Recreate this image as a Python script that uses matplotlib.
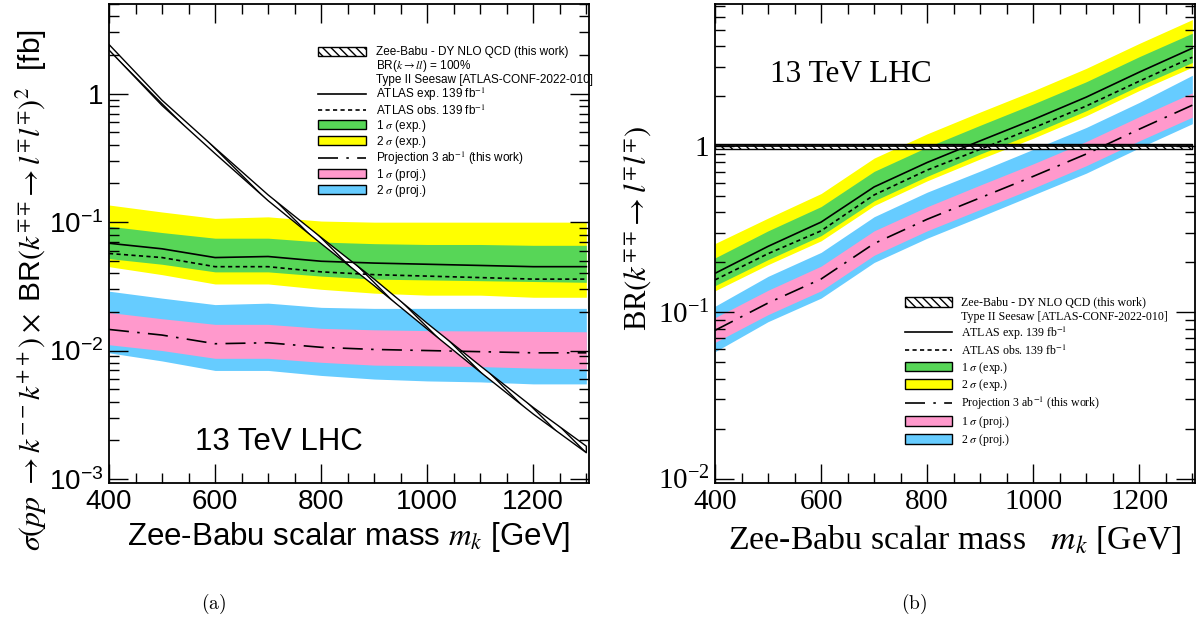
import math
import matplotlib.pyplot as plt
from matplotlib.patches import Patch
from matplotlib.lines import Line2D
from matplotlib.ticker import MultipleLocator, LogLocator, FuncFormatter, NullFormatter

plt.rcParams['mathtext.fontset'] = 'stix'

# masses in GeV
mass = [400, 500, 600, 700, 800, 900, 1000, 1100, 1200, 1300]

# ---- panel (a): cross section x BR^2 [fb]
theory_lo = [2.19, 0.81, 0.342, 0.147, 0.068, 0.032, 0.0147, 0.0068, 0.0032, 0.0016]
theory_hi = [2.42, 0.89, 0.378, 0.163, 0.076, 0.036, 0.0163, 0.0076, 0.0036, 0.0018]
exp_lim = [0.0685, 0.062, 0.053, 0.054, 0.0496, 0.048, 0.047, 0.046, 0.045, 0.045]
obs_lim = [0.057, 0.053, 0.045, 0.045, 0.041, 0.039, 0.038, 0.037, 0.036, 0.036]
exp_1s_lo = [0.052, 0.047, 0.041, 0.041, 0.038, 0.036, 0.0355, 0.035, 0.0345, 0.034]
exp_1s_hi = [0.093, 0.083, 0.075, 0.075, 0.070, 0.068, 0.067, 0.067, 0.066, 0.066]
exp_2s_lo = [0.045, 0.039, 0.033, 0.033, 0.030, 0.028, 0.027, 0.027, 0.026, 0.026]
exp_2s_hi = [0.136, 0.120, 0.107, 0.110, 0.102, 0.100, 0.100, 0.100, 0.100, 0.100]
proj_lim = [0.0146, 0.0132, 0.0113, 0.0115, 0.0106, 0.0102, 0.0100, 0.0098, 0.0096, 0.0096]
proj_1s_lo = [0.0111, 0.0100, 0.0087, 0.0087, 0.0081, 0.0077, 0.0076, 0.0075, 0.0073, 0.0072]
proj_1s_hi = [0.0198, 0.0177, 0.0160, 0.0160, 0.0149, 0.0145, 0.0143, 0.0142, 0.0141, 0.0140]
proj_2s_lo = [0.0096, 0.0083, 0.0070, 0.0070, 0.0064, 0.0060, 0.0058, 0.0057, 0.0055, 0.0055]
proj_2s_hi = [0.0290, 0.0256, 0.0228, 0.0234, 0.0217, 0.0213, 0.0213, 0.0213, 0.0213, 0.0213]

# ---- panel (b): BR limits
br_th_lo = [0.965] * 10
br_th_hi = [1.035] * 10
br_exp = [0.172, 0.25, 0.35, 0.57, 0.80, 1.08, 1.45, 1.98, 2.8, 3.9]
br_obs = [0.157, 0.226, 0.31, 0.51, 0.72, 0.96, 1.29, 1.75, 2.47, 3.44]
br_1s_lo = [0.145, 0.208, 0.29, 0.47, 0.66, 0.90, 1.20, 1.64, 2.32, 3.2]
br_1s_hi = [0.213, 0.31, 0.434, 0.707, 0.99, 1.34, 1.80, 2.45, 3.47, 4.8]
br_2s_lo = [0.135, 0.194, 0.27, 0.44, 0.62, 0.84, 1.12, 1.53, 2.17, 3.0]
br_2s_hi = [0.26, 0.37, 0.52, 0.85, 1.19, 1.61, 2.16, 2.95, 4.17, 5.8]
br_proj = [0.078, 0.114, 0.159, 0.26, 0.364, 0.49, 0.66, 0.90, 1.27, 1.77]
br_p1s_lo = [0.066, 0.097, 0.135, 0.221, 0.31, 0.417, 0.56, 0.765, 1.08, 1.5]
br_p1s_hi = [0.093, 0.136, 0.19, 0.31, 0.433, 0.585, 0.785, 1.07, 1.51, 2.1]
br_p2s_lo = [0.058, 0.088, 0.122, 0.20, 0.28, 0.377, 0.51, 0.69, 0.98, 1.37]
br_p2s_hi = [0.109, 0.165, 0.23, 0.377, 0.53, 0.71, 0.96, 1.30, 1.84, 2.68]

GREEN = '#57d657'
YELLOW = '#ffff00'
PINK = '#ff99cc'
BLUE = '#66ccff'
HATCH = '\\\\\\\\'
SANS = 'Liberation Sans'
SERIF = 'Liberation Serif'


def decade_fmt(v, pos):
    if abs(v - 1) < 1e-9:
        return '1'
    return r'$\mathdefault{10^{%d}}$' % int(round(math.log10(v)))


def style_axes(ax, family, size):
    ax.set_xlim(400, 1305)
    ax.xaxis.set_major_locator(MultipleLocator(200))
    ax.xaxis.set_minor_locator(MultipleLocator(50))
    ax.yaxis.set_major_locator(LogLocator(base=10))
    ax.yaxis.set_minor_locator(LogLocator(base=10, subs=range(2, 10)))
    ax.yaxis.set_major_formatter(FuncFormatter(decade_fmt))
    ax.yaxis.set_minor_formatter(NullFormatter())
    ax.tick_params(which='both', direction='in', top=True, right=True, width=1)
    ax.tick_params(which='major', length=14, labelsize=size, pad=4)
    ax.tick_params(which='minor', length=7)
    for lab in ax.get_xticklabels() + ax.get_yticklabels():
        lab.set_family(family)
    for s in ax.spines.values():
        s.set_linewidth(1.3)


def draw(ax, lim):
    th_lo, th_hi, y2lo, y2hi, g1lo, g1hi, e, o, p2lo, p2hi, p1lo, p1hi, p = lim
    ax.fill_between(mass, y2lo, y2hi, color=YELLOW, lw=0)
    ax.fill_between(mass, g1lo, g1hi, color=GREEN, lw=0)
    ax.fill_between(mass, p2lo, p2hi, color=BLUE, lw=0)
    ax.fill_between(mass, p1lo, p1hi, color=PINK, lw=0)
    ax.plot(mass, e, color='black', lw=1.2)
    ax.plot(mass, o, color='black', lw=1.2, dashes=(2.5, 2))
    ax.plot(mass, p, color='black', lw=1.2, dashes=(12, 5, 1.5, 5))
    ax.fill_between(mass, th_lo, th_hi, facecolor='white', edgecolor='black',
                    hatch=HATCH, lw=1)


def legend_items():
    blank = Line2D([], [], color='none')
    return [
        Patch(facecolor='white', edgecolor='black', hatch=HATCH, lw=1),
        blank,
        blank,
        Line2D([], [], color='black', lw=1.2),
        Line2D([], [], color='black', lw=1.2, dashes=(2.5, 2)),
        Patch(facecolor=GREEN, edgecolor='black', lw=1),
        Patch(facecolor=YELLOW, edgecolor='black', lw=1),
        Line2D([], [], color='black', lw=1.2, dashes=(12, 5, 1.5, 5)),
        Patch(facecolor=PINK, edgecolor='black', lw=1),
        Patch(facecolor=BLUE, edgecolor='black', lw=1),
    ]


fig = plt.figure(figsize=(12.04, 6.24), dpi=100)
ax1 = fig.add_axes([109 / 1204, 1 - 483 / 624, 480 / 1204, 479 / 624])
ax2 = fig.add_axes([715 / 1204, 1 - 483 / 624, 480 / 1204, 479 / 624])

# ---------------- (a)
draw(ax1, (theory_lo, theory_hi, exp_2s_lo, exp_2s_hi, exp_1s_lo, exp_1s_hi,
           exp_lim, obs_lim, proj_2s_lo, proj_2s_hi, proj_1s_lo, proj_1s_hi, proj_lim))
ax1.set_yscale('log')
ax1.set_ylim(0.93e-3, 5.0)
style_axes(ax1, SANS, 20)
ax1.set_xlabel('Zee-Babu scalar mass $m_k$ [GeV]', family=SANS, fontsize=22.5, labelpad=4)
ax1.set_ylabel(r'$\sigma(pp\ \rightarrow k^{--}k^{++})\times$ BR$(k^{\mp\mp}\!\rightarrow l^{\mp}l^{\mp})^{2}$  [fb]',
               family=SANS, fontsize=21.5)
ax1.yaxis.set_label_coords(-0.125, 0.402)
ax1.text(0.18, 0.069, '13 TeV LHC', transform=ax1.transAxes, family=SANS, fontsize=22.5)
labels_a = ['Zee-Babu - DY NLO QCD (this work)', r'BR($k\rightarrow ll$) = 100%',
            'Type II Seesaw [ATLAS-CONF-2022-010]', r'ATLAS exp. 139 fb$^{-1}$',
            r'ATLAS obs. 139 fb$^{-1}$', r'1 $\sigma$ (exp.)', r'2 $\sigma$ (exp.)',
            r'Projection 3 ab$^{-1}$ (this work)', r'1 $\sigma$ (proj.)', r'2 $\sigma$ (proj.)']
ax1.legend(legend_items(), labels_a, loc='upper left', bbox_to_anchor=(0.435, 0.912),
           frameon=False, prop={'family': SANS, 'size': 8.5}, handlelength=4.07,
           handleheight=0.8, handletextpad=0.85, labelspacing=0.0, borderpad=0,
           borderaxespad=0)

# ---------------- (b)
draw(ax2, (br_th_lo, br_th_hi, br_2s_lo, br_2s_hi, br_1s_lo, br_1s_hi,
           br_exp, br_obs, br_p2s_lo, br_p2s_hi, br_p1s_lo, br_p1s_hi, br_proj))
ax2.plot(mass, [1.0] * len(mass), color='black', lw=1.3)
ax2.set_yscale('log')
ax2.set_ylim(0.94e-2, 7.2)
style_axes(ax2, SERIF, 21)
ax2.set_xlabel('Zee-Babu scalar mass   $m_k$ [GeV]', family=SERIF, fontsize=24.4, labelpad=6)
ax2.set_ylabel(r'BR$(k^{\mp\mp}\!\rightarrow l^{\mp}l^{\mp})$', family=SERIF, fontsize=22)
ax2.yaxis.set_label_coords(-0.127, 0.532)
ax2.text(0.115, 0.837, '13 TeV LHC', transform=ax2.transAxes, family=SERIF, fontsize=22.5)
labels_b = [labels_a[0], labels_a[2]] + labels_a[3:]
handles_b = legend_items()
handles_b = [handles_b[0], handles_b[2]] + handles_b[3:]
ax2.legend(handles_b, labels_b, loc='upper left', bbox_to_anchor=(0.396, 0.389),
           frameon=False, prop={'family': SERIF, 'size': 8.6}, handlelength=3.9,
           handleheight=0.9, handletextpad=0.8, labelspacing=0.15, borderpad=0,
           borderaxespad=0)

fig.text(214 / 1204, 1 - 604 / 624, r'$\mathrm{(a)}$', math_fontfamily='cm',
         fontsize=14, ha='center', va='center')
fig.text(914 / 1204, 1 - 604 / 624, r'$\mathrm{(b)}$', math_fontfamily='cm',
         fontsize=14, ha='center', va='center')

fig.savefig('out.png', dpi=100)
